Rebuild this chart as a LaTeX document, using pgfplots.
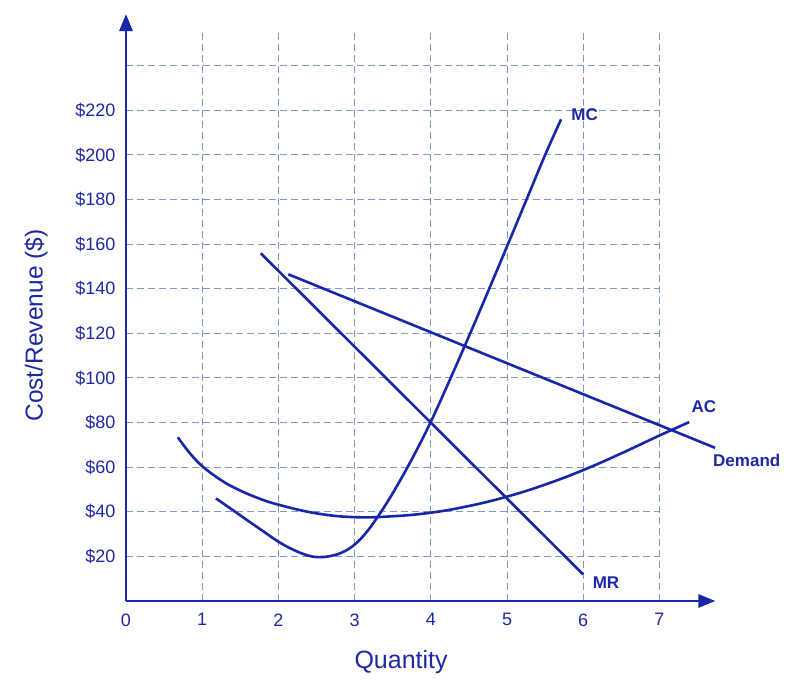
\documentclass[border=0pt]{standalone}
\usepackage{pgfplots}
\pgfplotsset{compat=1.18}
\usepackage{fontspec}
\setmainfont{Liberation Sans}
\usetikzlibrary{arrows.meta}
\definecolor{curve}{RGB}{24,38,170}
\definecolor{txt}{RGB}{30,40,165}
\definecolor{gridc}{RGB}{128,152,200}
\begin{document}
\begin{tikzpicture}
\begin{axis}[
  at={(0,0)}, anchor=origin,
  x=76.2bp, y=2.23bp,
  xmin=0, xmax=7, ymin=0, ymax=254.7,
  axis lines=left,
  axis line style={curve, line width=2.8bp},
  x axis line style={-{Triangle[length=17bp,width=13bp]}, shorten >=-56bp},
  y axis line style={-{Triangle[length=17bp,width=13bp]}, shorten >=-19bp},
  xtick={0,1,2,3,4,5,6,7},
  ytick={20,40,60,80,100,120,140,160,180,200,220,240},
  yticklabels={\$20,\$40,\$60,\$80,\$100,\$120,\$140,\$160,\$180,\$200,\$220,},
  major tick length=0pt,
  grid=major,
  major grid style={gridc, line width=1bp, dash pattern=on 7bp off 4bp},
  tick label style={font=\fontsize{18bp}{21bp}\selectfont, text=txt},
  xticklabel style={yshift=-9bp},
  yticklabel style={xshift=-7bp},
  /pgf/number format/assume math mode=true,
  clip=false,
]
% AC
\addplot[curve, line width=2.6bp, smooth, tension=0.7] coordinates {
 (0.68,73.4) (0.84,66.2) (1,60.5) (1.2,55.3) (1.41,51) (1.7,46.6) (2,43.2) (2.5,39.3) (3,37.6) (3.5,38) (4,39.6) (4.5,42.6) (5,46.8) (5.5,52.2) (6,58.7) (6.5,66.2) (7,74.2) (7.39,80.2)
};
% MC
\addplot[curve, line width=2.6bp, smooth, tension=0.7] coordinates {
 (1.18,46) (1.4,40.8) (1.6,36) (1.8,31.3) (2,26.6) (2.2,22.9) (2.4,20.3) (2.55,19.7) (2.7,20.3) (2.85,22.0) (3,25.3) (3.15,30.6) (3.3,37.6) (3.45,45.5) (3.6,54.2) (3.75,63.5) (3.9,73.4) (4.05,84) (4.25,99.2) (4.5,118.7) (4.75,138.7) (5,159) (5.25,179.5) (5.5,200) (5.71,216)
};
% Demand
\addplot[curve, line width=2.6bp] coordinates {(2.13,146.5) (7.73,68.7)};
% MR
\addplot[curve, line width=2.6bp] coordinates {(1.77,155.9) (6.0,11.9)};
\node[anchor=west, text=txt, font=\bfseries\fontsize{17bp}{20bp}\selectfont] at (axis cs:5.8,218) {MC};
\node[anchor=west, text=txt, font=\bfseries\fontsize{17bp}{20bp}\selectfont] at (axis cs:7.375,87) {AC};
\node[anchor=west, text=txt, font=\bfseries\fontsize{17bp}{20bp}\selectfont] at (axis cs:7.66,63.2) {Demand};
\node[anchor=west, text=txt, font=\bfseries\fontsize{17bp}{20bp}\selectfont] at (axis cs:6.08,8.1) {MR};
\node[text=txt, font=\fontsize{25bp}{30bp}\selectfont] at (axis cs:3.61,-27.5) {Quantity};
\node[text=txt, rotate=90, font=\fontsize{24.5bp}{30bp}\selectfont] at (axis cs:-1.18,123.5) {Cost/Revenue (\$)};
\end{axis}
\useasboundingbox (-126bp,-93bp) rectangle (682bp,601bp);
\end{tikzpicture}
\end{document}
